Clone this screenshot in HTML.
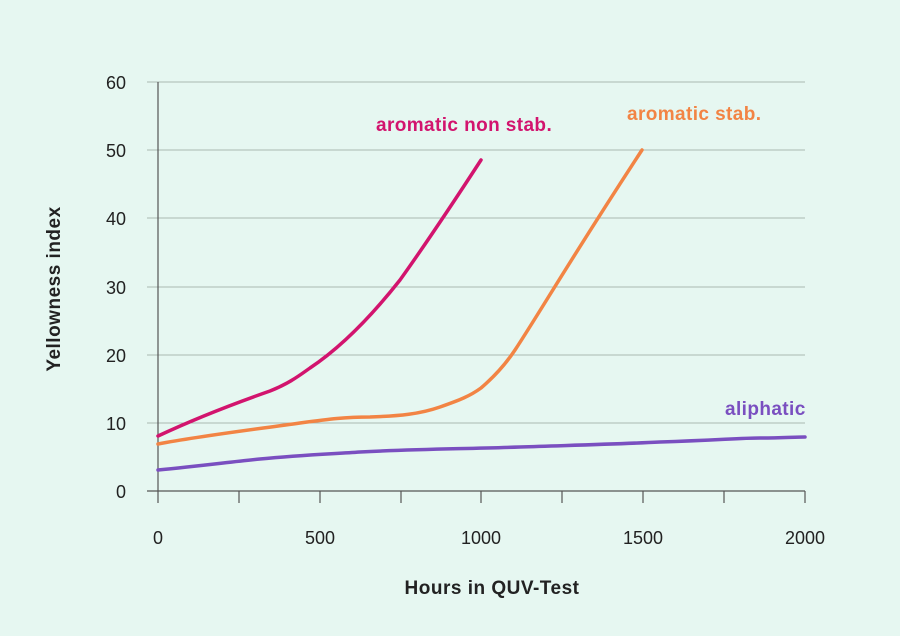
<!DOCTYPE html>
<html><head><meta charset="utf-8"><style>
html,body{margin:0;padding:0;background:#e6f7f1;}
svg{display:block;font-family:"Liberation Sans",sans-serif;}
</style></head><body>
<svg width="900" height="636" viewBox="0 0 900 636" xmlns="http://www.w3.org/2000/svg">
<rect width="900" height="636" fill="#e6f7f1"/>
<g stroke="#a9b8b1" stroke-width="1">
<line x1="147" y1="82" x2="805" y2="82"/>
<line x1="147" y1="150" x2="805" y2="150"/>
<line x1="147" y1="218" x2="805" y2="218"/>
<line x1="147" y1="287" x2="805" y2="287"/>
<line x1="147" y1="355" x2="805" y2="355"/>
<line x1="147" y1="423" x2="805" y2="423"/>
</g>
<g stroke="#555" stroke-width="1.2">
<line x1="158" y1="82" x2="158" y2="503"/>
<line x1="147" y1="491" x2="805" y2="491"/>
<line x1="239" y1="491" x2="239" y2="503"/>
<line x1="320" y1="491" x2="320" y2="503"/>
<line x1="401" y1="491" x2="401" y2="503"/>
<line x1="481" y1="491" x2="481" y2="503"/>
<line x1="562" y1="491" x2="562" y2="503"/>
<line x1="643" y1="491" x2="643" y2="503"/>
<line x1="724" y1="491" x2="724" y2="503"/>
<line x1="805" y1="491" x2="805" y2="503"/>
</g>
<g font-size="18" fill="#222" text-anchor="end">
<text x="126" y="89">60</text><text x="126" y="157">50</text><text x="126" y="225">40</text>
<text x="126" y="294">30</text><text x="126" y="362">20</text><text x="126" y="430">10</text><text x="126" y="498">0</text>
</g>
<g font-size="18" fill="#222" text-anchor="middle">
<text x="158" y="544">0</text><text x="320" y="544">500</text><text x="481" y="544">1000</text>
<text x="643" y="544">1500</text><text x="805" y="544">2000</text>
</g>
<g font-size="19" font-weight="bold" letter-spacing="0.5">
<text x="492" y="594" fill="#222" text-anchor="middle">Hours in QUV-Test</text>
<text transform="translate(60,289) rotate(-90)" fill="#222" text-anchor="middle">Yellowness index</text>
</g>
<g fill="none" stroke-width="3.5" stroke-linecap="round" stroke-linejoin="round">
<path stroke="#7a4fc0" d="M158,470 C200,466 230,462 260,459 C300,455 330,454 360,452 C420,449 460,449 520,447 C580,445 620,444 660,442 C720,440 740,438 760,438 C780,438 795,437 805,437"/>
<path stroke="#f28444" d="M158,444 C200,436 250,430 300,423 C330,419 345,417 370,417 C400,416 420,414 440,407 C460,400 470,396 481,388 C495,376 505,365 515,350 C540,312 570,260 642,150"/>
<path stroke="#d2146e" d="M158,436 C190,421 230,405 270,391 C290,383 300,375 310,368 C340,348 370,318 400,280 C430,238 455,200 481,160"/>
</g>
<g font-size="19" font-weight="bold" letter-spacing="0.4">
<text x="376" y="131" fill="#d2146e">aromatic non stab.</text>
<text x="627" y="120" fill="#f28444">aromatic stab.</text>
<text x="725" y="415" fill="#7a4fc0">aliphatic</text>
</g>
</svg>
</body></html>
